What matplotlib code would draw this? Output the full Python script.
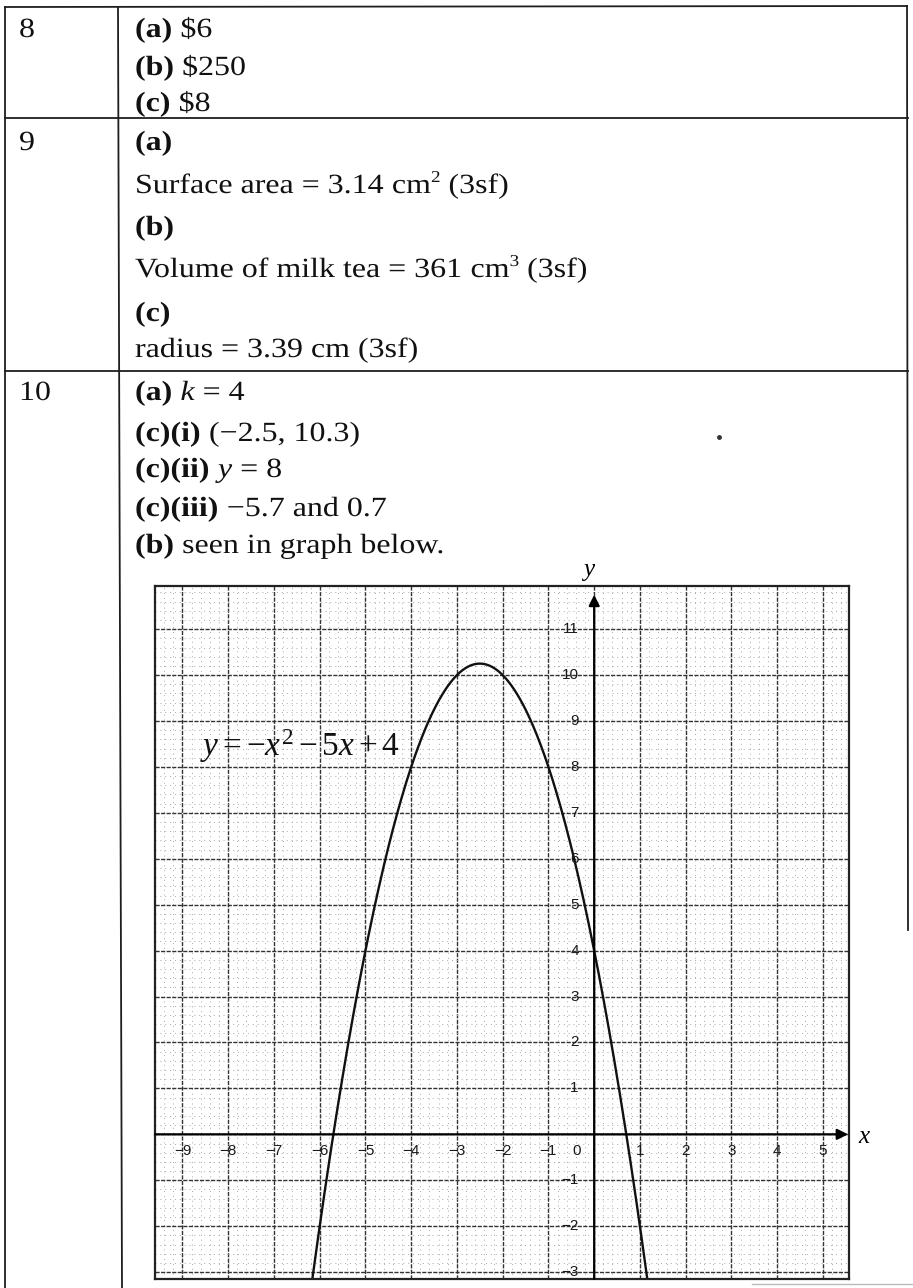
import numpy as np
import matplotlib
matplotlib.use("Agg")
import matplotlib.pyplot as plt
from matplotlib.ticker import MultipleLocator
from matplotlib.patheffects import AbstractPathEffect
from matplotlib.transforms import Affine2D

plt.rcParams["mathtext.fontset"] = "custom"
plt.rcParams["mathtext.rm"] = "Liberation Serif"
plt.rcParams["mathtext.it"] = "Liberation Serif:italic"
plt.rcParams["mathtext.bf"] = "Liberation Serif:bold"

# ---- answer table content ----
question_numbers = ["8", "9", "10"]
q8_lines = [[("(a)", "bold"), (" $6", "normal")],
            [("(b)", "bold"), (" $250", "normal")],
            [("(c)", "bold"), (" $8", "normal")]]
q9_lines = [[("(a)", "bold")],
            [("Surface area = 3.14 ", "normal"), ("cm", "normal"), ("2", "sup"), (" (3sf)", "normal")],
            [("(b)", "bold")],
            [("Volume of milk tea = 361 ", "normal"), ("cm", "normal"), ("3", "sup"), (" (3sf)", "normal")],
            [("(c)", "bold")],
            [("radius = 3.39 cm (3sf)", "normal")]]
q10_lines = [[("(a)", "bold"), (" ", "normal"), ("k", "italic"), (" = 4", "normal")],
             [("(c)(i)", "bold"), (" (\u22122.5, 10.3)", "normal")],
             [("(c)(ii)", "bold"), (" ", "normal"), ("y", "italic"), (" = 8", "normal")],
             [("(c)(iii)", "bold"), (" \u22125.7 and 0.7", "normal")],
             [("(b)", "bold"), (" seen in graph below.", "normal")]]

# ---- graph content ----
coef_a, coef_b, coef_c = -1, -5, 4          # y = a x^2 + b x + c
x_tick_values = [-9, -8, -7, -6, -5, -4, -3, -2, -1, 1, 2, 3, 4, 5]
y_tick_values = [-3, -2, -1, 1, 2, 3, 4, 5, 6, 7, 8, 9, 10, 11]
x_limits = (-9.6, 5.57)
y_limits = (-3.15, 11.94)
curve_y_min = -3.15

W, H = 913, 1288
fig = plt.figure(figsize=(W / 100, H / 100), dpi=100)
fig.patch.set_facecolor("white")

SERIF = "Liberation Serif"
FS = 20
STRETCH = 1.15


class HStretch(AbstractPathEffect):
    """Widen glyphs horizontally about a fixed display x position."""

    def __init__(self, x0, sx):
        super().__init__()
        self.x0 = x0
        self.sx = sx

    def draw_path(self, renderer, gc, tpath, affine, rgbFace=None):
        aff = affine + Affine2D().translate(-self.x0, 0).scale(self.sx, 1).translate(self.x0, 0)
        renderer.draw_path(gc, tpath, aff, rgbFace)


page = fig.add_axes([0, 0, 1, 1])
page.set_xlim(0, W)
page.set_ylim(H, 0)
page.axis("off")

# table rules
ink = "#1e1e1e"
lw_t = 1.3
page.plot([5, 5], [7, H], color=ink, lw=lw_t)
page.plot([907, 908], [6, 930], color=ink, lw=lw_t)
page.plot([118, 122], [7, H], color=ink, lw=lw_t)
page.plot([5, 907], [7, 6], color=ink, lw=lw_t)
page.plot([5, 908], [118, 118], color=ink, lw=lw_t)
page.plot([5, 908], [371, 371], color=ink, lw=lw_t)
page.plot([752, W], [1284, 1284], color="#bbbbbb", lw=1.0)

renderer = fig.canvas.get_renderer()


def stretched_text(x, y, s, **kw):
    t = page.text(x, y, s, **kw)
    x0 = page.transData.transform((x, y))[0]
    t.set_path_effects([HStretch(x0, STRETCH)])
    return t


def put_line(x, y, segments):
    """Draw a run of differently styled text pieces left to right."""
    for text, style in segments:
        kw = dict(family=SERIF, fontsize=FS, va="baseline", ha="left", color="#111111")
        yy = y
        if style == "bold":
            kw["weight"] = "bold"
        elif style == "italic":
            kw["style"] = "italic"
        elif style == "sup":
            kw["fontsize"] = FS * 0.6
            yy = y - 11
        t = stretched_text(x, yy, text.replace("$", r"\$"), **kw)
        bb = t.get_window_extent(renderer)
        x += bb.width * STRETCH


# question numbers
for num, base in zip(question_numbers, [37, 150, 400]):
    stretched_text(19, base, num, family=SERIF, fontsize=FS, va="baseline", color="#111111")

for segs, base in zip(q8_lines, [37, 75, 111]):
    put_line(135, base, segs)
for segs, base in zip(q9_lines, [150, 193, 235, 277, 321, 357]):
    put_line(135, base, segs)
for segs, base in zip(q10_lines, [400, 441, 477, 516, 553]):
    put_line(135, base, segs)

page.plot([719], [437], marker="o", ms=2.5, color="#333333")

# ---- graph ----
gx0, gx1, gy0, gy1 = 155, 849, 586, 1279
ax = fig.add_axes([gx0 / W, 1 - gy1 / H, (gx1 - gx0) / W, (gy1 - gy0) / H])
ax.set_xlim(*x_limits)
ax.set_ylim(*y_limits)
ax.set_facecolor("white")
for s in ax.spines.values():
    s.set_color("#222222")
    s.set_linewidth(1.6)
ax.tick_params(which="both", length=0, labelbottom=False, labelleft=False)

ax.xaxis.set_major_locator(MultipleLocator(1))
ax.yaxis.set_major_locator(MultipleLocator(1))
ax.xaxis.set_minor_locator(MultipleLocator(0.2))
ax.yaxis.set_minor_locator(MultipleLocator(0.2))
ax.grid(which="minor", color="#a8a8a8", lw=0.7, linestyle=(0, (1, 4)))
ax.grid(which="major", color="#333333", lw=1.0, linestyle=(0, (3, 1)))
ax.set_axisbelow(True)

# axes with arrows
ax.annotate("", xy=(x_limits[1] - 0.02, 0), xytext=(x_limits[0], 0),
            arrowprops=dict(arrowstyle="-|>", color="black", lw=1.6, mutation_scale=16,
                            shrinkA=0, shrinkB=0))
ax.annotate("", xy=(0, 11.75), xytext=(0, y_limits[0]),
            arrowprops=dict(arrowstyle="-|>", color="black", lw=1.6, mutation_scale=16,
                            shrinkA=0, shrinkB=0))

TICK_KW = dict(family="Liberation Sans", fontsize=11, color="#1a1a1a")
for xv in x_tick_values:
    ax.text(xv, -0.37, f"{xv}".replace("-", "\u2212"), ha="center", va="center", **TICK_KW)
for yv in y_tick_values:
    ax.text(-0.34, yv, f"{yv}".replace("-", "\u2212"), ha="right", va="center", **TICK_KW)
ax.text(-0.38, -0.37, "0", ha="center", va="center", **TICK_KW)

# quadratic curve
disc = np.sqrt(coef_b ** 2 - 4 * coef_a * (coef_c - curve_y_min))
r1 = (-coef_b + disc) / (2 * coef_a)
r2 = (-coef_b - disc) / (2 * coef_a)
xs = np.linspace(min(r1, r2), max(r1, r2), 600)
ax.plot(xs, coef_a * xs ** 2 + coef_b * xs + coef_c, color="#111111", lw=1.7)

ax.text(-8.62, 8.45, r"$y=-x^2-5x+4$", fontsize=24, va="center", ha="left",
        color="#111111")

# axis names
page.text(858, 1137, "x", family=SERIF, style="italic", fontsize=18, va="center", ha="left")
page.text(589, 570, "y", family=SERIF, style="italic", fontsize=18, va="center", ha="center")

fig.savefig("out.png", dpi=100, facecolor="white")
